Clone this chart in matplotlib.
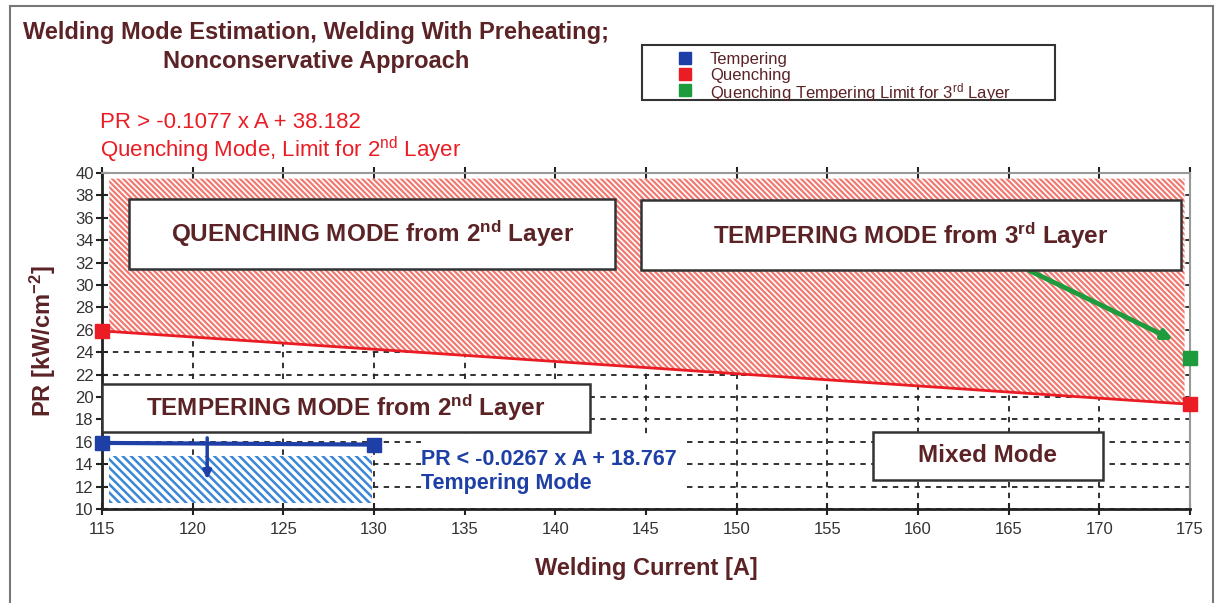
import numpy as np
import matplotlib
matplotlib.use('Agg')
import matplotlib.pyplot as plt
from matplotlib.patches import Rectangle
from matplotlib.lines import Line2D

plt.rcParams['font.family'] = ['Liberation Sans', 'DejaVu Sans']
plt.rcParams['mathtext.fontset'] = 'custom'
plt.rcParams['mathtext.rm'] = 'Liberation Sans'
plt.rcParams['mathtext.it'] = 'Liberation Sans'
plt.rcParams['mathtext.bf'] = 'Liberation Sans:bold'
plt.rcParams['mathtext.default'] = 'rm'

# data
quench_x = [115, 175]
quench_pr = [25.9, 19.35]
temper_x = [115, 130]
temper_pr = [15.9, 15.75]
limit3_x = [175]
limit3_pr = [23.5]
limit3_arrow_x = [166, 174.2]
limit3_arrow_pr = [31.4, 25.0]
temper_arrow_x = [120.8, 120.8]
temper_arrow_pr = [16.6, 12.4]
quench_zone_x = [115.4, 174.7]
quench_zone_top = 39.5
temper_zone_x = [115.4, 129.9]
temper_zone_pr = [10.5, 14.7]

xticks = np.arange(115, 176, 5)
yticks = np.arange(10, 41, 2)

legend_labels = ['Tempering', 'Quenching', r'Quenching Tempering Limit for 3$^{rd}$ Layer']

maroon = '#5b2326'
red = '#ea1c24'
blue = '#1d3fa6'
green = '#1e9b3c'
legend_colors = [blue, red, green]

fig = plt.figure(figsize=(12.19, 6.03), dpi=100)
ax = fig.add_axes([0.0837, 0.1559, 0.8925, 0.5572])

# outer frame of the picture
fig.patches.append(Rectangle((0.008, -0.01), 0.987, 1.0, transform=fig.transFigure,
                             fill=False, edgecolor='#777777', lw=1.5))

ax.set_xlim(115, 175)
ax.set_ylim(10, 40)
ax.set_xticks(xticks)
ax.set_yticks(yticks)
ax.tick_params(direction='inout', length=9, width=1.5, labelsize=12, colors='#222222',
               top=True, labelcolor='#333333')
ax.tick_params(axis='x', pad=5)
ax.tick_params(axis='y', pad=1.5)
for s in ['left', 'bottom']:
    ax.spines[s].set_linewidth(2)
    ax.spines[s].set_color('#222222')
for s in ['top', 'right']:
    ax.spines[s].set_linewidth(1.5)
    ax.spines[s].set_color('#999999')
ax.set_axisbelow(True)
ax.grid(True, color='#222222', linestyle=(0, (3, 3)), linewidth=1.3)

# quenching zone (hatched red)
plt.rcParams['hatch.linewidth'] = 1.6
zx = np.array(quench_zone_x)
ax.fill_between(zx, np.interp(zx, quench_x, quench_pr), quench_zone_top,
                facecolor='white', edgecolor='#f07a72', linewidth=0, hatch='\\' * 6, zorder=2)
# tempering zone (hatched blue)
plt.rcParams['hatch.linewidth'] = 1.8
ax.fill_between(temper_zone_x, temper_zone_pr[0], temper_zone_pr[1],
                facecolor='white', edgecolor='#3b86d6', linewidth=0, hatch='\\' * 4, zorder=2)

# white area behind the tempering equation
ax.add_patch(Rectangle((132.6, 10.1), 14.4, 6.3, facecolor='white', edgecolor='none', zorder=2))

ax.plot(quench_x, quench_pr, color=red, lw=2, zorder=4)
ax.plot(quench_x, quench_pr, 's', color=red, ms=10, clip_on=False, zorder=6)
ax.plot(temper_x, temper_pr, color=blue, lw=3, zorder=4)
ax.plot(temper_x, temper_pr, 's', color=blue, ms=10, clip_on=False, zorder=6)
ax.plot(limit3_x, limit3_pr, 's', color=green, ms=10, clip_on=False, zorder=6)

ax.annotate('', xy=(limit3_arrow_x[1], limit3_arrow_pr[1]),
            xytext=(limit3_arrow_x[0], limit3_arrow_pr[0]),
            arrowprops=dict(arrowstyle='-|>', color=green, lw=3.5, mutation_scale=14), zorder=5)
ax.annotate('', xy=(temper_arrow_x[1], temper_arrow_pr[1]),
            xytext=(temper_arrow_x[0], temper_arrow_pr[0]),
            arrowprops=dict(arrowstyle='-|>', color=blue, lw=2.5, mutation_scale=12), zorder=5)

# mode boxes
boxes = [
    ((116.5, 31.4), 26.8, 6.3, r'QUENCHING MODE from 2$^{\mathbf{nd}}$ Layer'),
    ((144.7, 31.3), 29.8, 6.3, r'TEMPERING MODE from 3$^{\mathbf{rd}}$ Layer'),
    ((115.0, 16.9), 26.9, 4.3, r'TEMPERING MODE from 2$^{\mathbf{nd}}$ Layer'),
    ((157.5, 12.6), 12.7, 4.3, 'Mixed Mode'),
]
for (x0, y0), w, h, txt in boxes:
    ax.add_patch(Rectangle((x0, y0), w, h, facecolor='white', edgecolor='#333333',
                           lw=1.8, zorder=5, clip_on=False))
    ax.text(x0 + w / 2, y0 + h / 2, txt, ha='center', va='center', fontsize=17.5,
            fontweight='bold', color=maroon, zorder=6)

ax.text(132.6, 14.46, 'PR < -0.0267 x A + 18.767', color=blue, fontsize=15.5,
        fontweight='bold', va='center', zorder=6)
ax.text(132.6, 12.3, 'Tempering Mode', color=blue, fontsize=15.5,
        fontweight='bold', va='center', zorder=6)

ax.set_xlabel('Welding Current [A]', fontsize=17, fontweight='bold', color=maroon, labelpad=14)
ax.set_ylabel(r'PR [kW/cm$^{\mathbf{-2}}$]', fontsize=17, fontweight='bold', color=maroon, labelpad=12)

fig.text(316 / 1219, 1 - 47 / 603, 'Welding Mode Estimation, Welding With Preheating;\nNonconservative Approach',
         ha='center', va='center', multialignment='center', fontsize=17, fontweight='bold',
         color=maroon, linespacing=1.3)
fig.text(100 / 1219, 1 - 122 / 603, 'PR > -0.1077 x A + 38.182', color=red, fontsize=16, va='center')
fig.text(100 / 1219, 1 - 150 / 603, r'Quenching Mode, Limit for 2$^{nd}$ Layer', color=red,
         fontsize=16, va='center')

# legend box, rows drawn by hand so they can sit tight like the original
fig.patches.append(Rectangle((642 / 1219, 1 - 100 / 603), 413 / 1219, 55 / 603,
                             transform=fig.transFigure, facecolor='white',
                             edgecolor='#333333', lw=1.5))
for i, (lab, col) in enumerate(zip(legend_labels, legend_colors)):
    yy = 1 - (58 + 16 * i) / 603
    fig.add_artist(Line2D([685 / 1219], [yy], transform=fig.transFigure, marker='s',
                          ls='none', color=col, ms=8))
    fig.text(710 / 1219, yy, lab, color=maroon, fontsize=12, va='center_baseline')

fig.savefig('out.png', dpi=100)
